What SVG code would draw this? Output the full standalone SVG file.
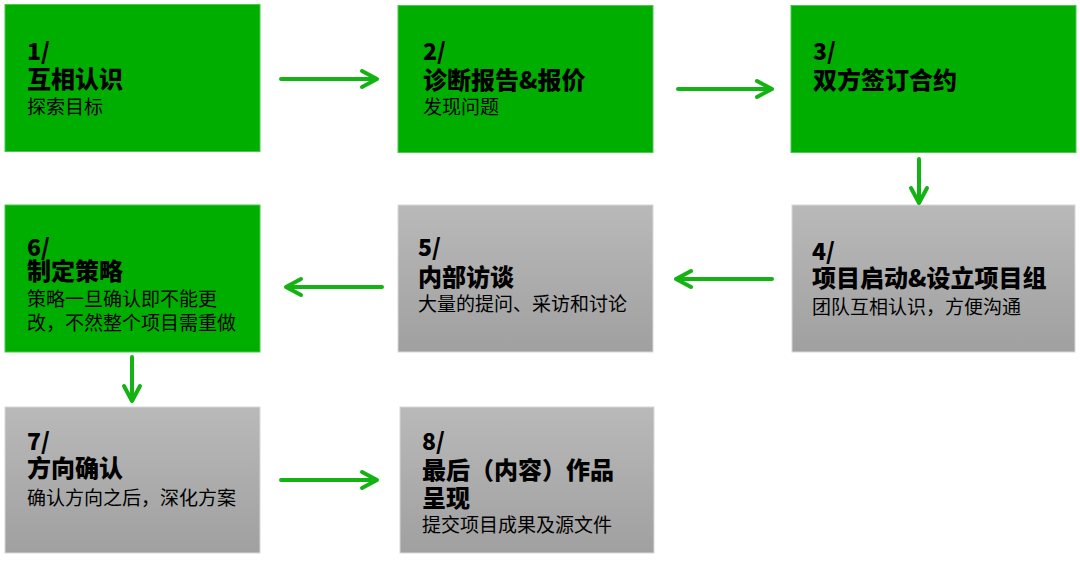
<svg xmlns="http://www.w3.org/2000/svg" width="1080" height="561" viewBox="0 0 1080 561">
<defs>
<linearGradient id="gray" x1="0" y1="0" x2="0" y2="1">
<stop offset="0" stop-color="#b9b9b9"/>
<stop offset="1" stop-color="#a0a0a0"/>
</linearGradient>
<style>
.g{fill:#00ae00;stroke:#4cc84c;stroke-width:1}
.s{fill:url(#gray);stroke:#d8d8d8;stroke-width:1}
text{font-family:"Noto Sans CJK SC","Noto Sans",sans-serif;fill:#000}
.n{font-size:23px;font-weight:900}
.t{font-size:24px;font-weight:900}
.d{font-size:19px;font-weight:400}
.a{fill:none;stroke:#12b312;stroke-width:4;stroke-linecap:round;stroke-linejoin:round}
</style>
</defs>
<rect width="1080" height="561" fill="#fff"/>
<g id="node1">
<rect class="g" x="5" y="4.5" width="255" height="147"/>
<text class="n" x="27" y="60">1/</text>
<text class="t" x="27" y="88">互相认识</text>
<text class="d" x="27" y="114">探索目标</text>
</g>
<g id="node2">
<rect class="g" x="398" y="5.5" width="255" height="147"/>
<text class="n" x="423" y="60">2/</text>
<text class="t" x="423" y="89">诊断报告&amp;报价</text>
<text class="d" x="423" y="114">发现问题</text>
</g>
<g id="node3">
<rect class="g" x="791" y="5.5" width="285" height="147"/>
<text class="n" x="813" y="60">3/</text>
<text class="t" x="813" y="89">双方签订合约</text>
</g>
<g id="node4">
<rect class="s" x="792" y="205" width="283" height="147"/>
<text class="n" x="812" y="260">4/</text>
<text class="t" x="812" y="287">项目启动&amp;设立项目组</text>
<text class="d" x="812" y="314">团队互相认识，方便沟通</text>
</g>
<g id="node5">
<rect class="s" x="398" y="205" width="255" height="147"/>
<text class="n" x="418" y="256">5/</text>
<text class="t" x="418" y="286">内部访谈</text>
<text class="d" x="418" y="311">大量的提问、采访和讨论</text>
</g>
<g id="node6">
<rect class="g" x="5" y="205" width="255" height="147"/>
<text class="n" x="27" y="256">6/</text>
<text class="t" x="27" y="280">制定策略</text>
<text class="d" x="27" y="306">策略一旦确认即不能更</text>
<text class="d" x="27" y="330">改，不然整个项目需重做</text>
</g>
<g id="node7">
<rect class="s" x="5" y="407" width="255" height="146"/>
<text class="n" x="27" y="450">7/</text>
<text class="t" x="27" y="477">方向确认</text>
<text class="d" x="27" y="505">确认方向之后，深化方案</text>
</g>
<g id="node8">
<rect class="s" x="400" y="407" width="254" height="146"/>
<text class="n" x="422" y="450">8/</text>
<text class="t" x="422" y="479">最后（内容）作品</text>
<text class="t" x="422" y="507">呈现</text>
<text class="d" x="422" y="532">提交项目成果及源文件</text>
</g>
<g id="connectors">
<path class="a" d="M281 79H376M362 71L377 79L362 87"/>
<path class="a" d="M678 89H771M757 81L772 89L757 97"/>
<path class="a" d="M919 159V202M911 188L919 203L927 188"/>
<path class="a" d="M772 279H677M691 271L676 279L691 287"/>
<path class="a" d="M382 287H287M301 279L286 287L301 295"/>
<path class="a" d="M132 357V400M124 386L132 401L140 386"/>
<path class="a" d="M281 480H376M362 472L377 480L362 488"/>
</g>
</svg>
